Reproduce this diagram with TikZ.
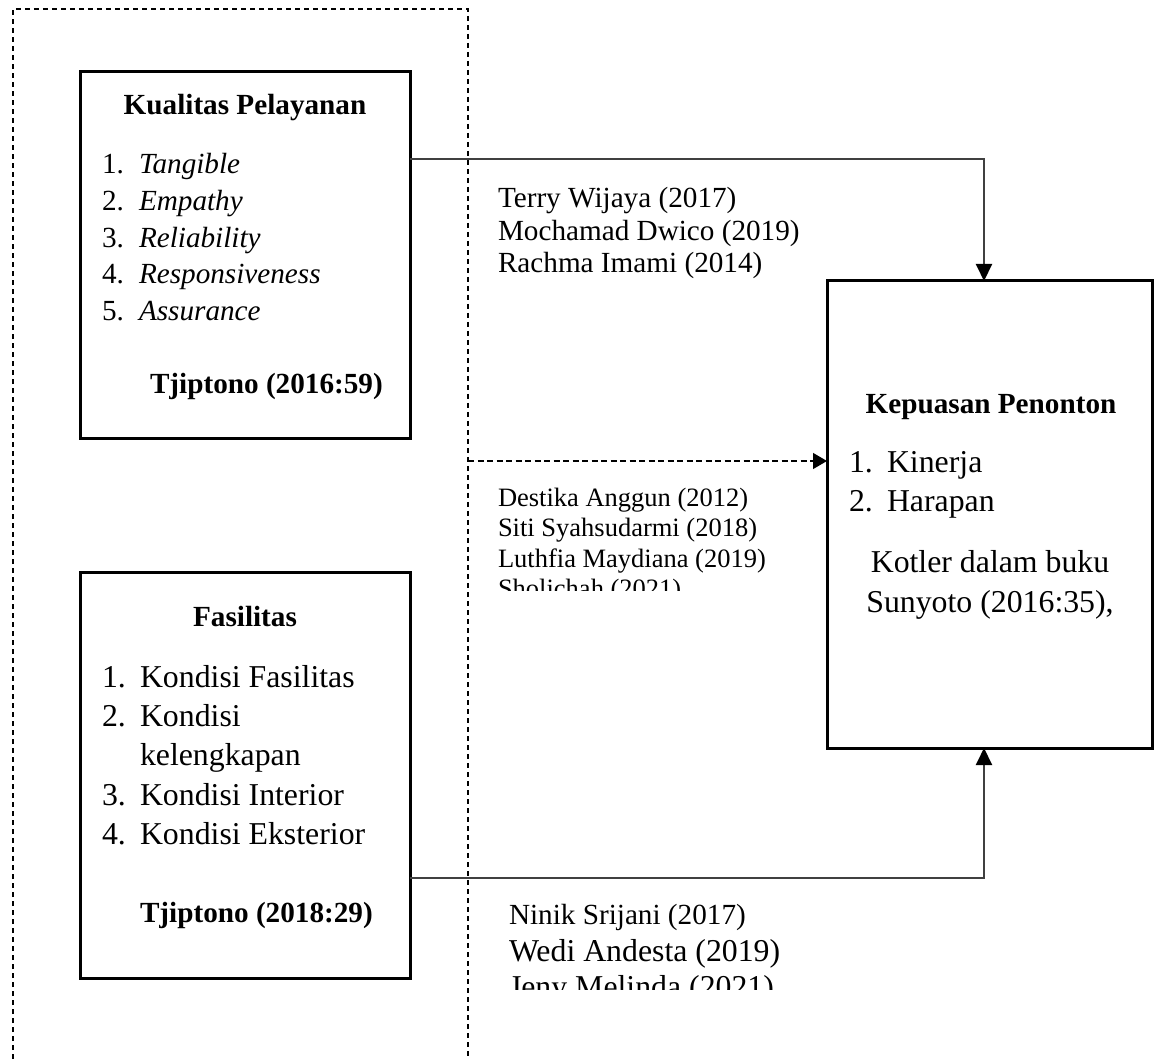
\documentclass[tikz,border=0pt]{standalone}
\usepackage{fontspec}
\setmainfont{Liberation Serif}
\usetikzlibrary{arrows.meta}
\newcommand\szA{\fontsize{29.2pt}{36pt}\selectfont}
\newcommand\szB{\fontsize{31.8pt}{39pt}\selectfont}
\newcommand\szC{\fontsize{26.5pt}{31pt}\selectfont}
\tikzset{
  boxnode/.style={draw=black, line width=3pt, rectangle, inner sep=0pt, outer sep=0pt},
  txt/.style={anchor=base west, inner sep=0pt, outer sep=0pt},
  ctxt/.style={anchor=base, inner sep=0pt, outer sep=0pt},
  conn/.style={line width=2pt, draw=black!75},
  tipA/.style={-{Triangle[length=17pt,width=16pt,color=black]}},
  tipB/.style={-{Triangle[length=14pt,width=16pt,color=black]}},
  frame/.style={line width=1.4pt, dash pattern=on 5pt off 4pt},
  dconn/.style={line width=1.3pt, dash pattern=on 6pt off 3.5pt}
}
\begin{document}
\begin{tikzpicture}[x=1pt,y=-1pt]
\useasboundingbox (0,0) rectangle (1154,1059);

% dashed frame (open at the bottom)
\draw[frame] (13,1059) |- (468,9) -- (468,1059);

% boxes
\node[boxnode, minimum width=330pt, minimum height=366pt] (kp) at (245,255) {};
\node[boxnode, minimum width=330pt, minimum height=406pt] (fas) at (245,775) {};
\node[boxnode, minimum width=325pt, minimum height=467pt] (kep) at (989.5,514.5) {};

% Kualitas Pelayanan
\node[ctxt] (kpT) at (245,115) {\szA\bfseries Kualitas Pelayanan};
\node[txt] (kpN1) at (102,174) {\szA 1.};
\node[txt] (kpI1) at (139,174) {\szA\itshape Tangible};
\node[txt] (kpN2) at (102,210.6) {\szA 2.};
\node[txt] (kpI2) at (139,210.6) {\szA\itshape Empathy};
\node[txt] (kpN3) at (102,247.2) {\szA 3.};
\node[txt] (kpI3) at (139,247.2) {\szA\itshape Reliability};
\node[txt] (kpN4) at (102,283.8) {\szA 4.};
\node[txt] (kpI4) at (139,283.8) {\szA\itshape Responsiveness};
\node[txt] (kpN5) at (102,320.4) {\szA 5.};
\node[txt] (kpI5) at (139,320.4) {\szA\itshape Assurance};
\node[txt] (kpS) at (150,393) {\szA\bfseries Tjiptono (2016:59)};

% Fasilitas
\node[ctxt] (fasT) at (245,626) {\szA\bfseries Fasilitas};
\node[txt] (fasN1) at (102,687) {\szB 1.};
\node[txt] (fasI1) at (140,687) {\szB Kondisi Fasilitas};
\node[txt] (fasN2) at (102,726.3) {\szB 2.};
\node[txt] (fasI2) at (140,726.3) {\szB Kondisi};
\node[txt] (fasI2b) at (140,765.6) {\szB kelengkapan};
\node[txt] (fasN3) at (102,805) {\szB 3.};
\node[txt] (fasI3) at (140,805) {\szB Kondisi Interior};
\node[txt] (fasN4) at (102,844) {\szB 4.};
\node[txt] (fasI4) at (140,844) {\szB Kondisi Eksterior};
\node[txt] (fasS) at (140,922) {\szA\bfseries Tjiptono (2018:29)};

% Kepuasan Penonton
\node[ctxt] (kepT) at (991,413) {\szA\bfseries Kepuasan Penonton};
\node[txt] (kepN1) at (849,472) {\szB 1.};
\node[txt] (kepI1) at (887,472) {\szB Kinerja};
\node[txt] (kepN2) at (849,511) {\szB 2.};
\node[txt] (kepI2) at (887,511) {\szB Harapan};
\node[ctxt] (kepS1) at (990,572) {\szB Kotler dalam buku};
\node[ctxt] (kepS2) at (990,612) {\szB Sunyoto (2016:35),};

% citations
\node[txt] (r1) at (498,208) {\szA Terry Wijaya (2017)};
\node[txt] (r2) at (498,240.5) {\szA Mochamad Dwico (2019)};
\node[txt] (r3) at (498,273) {\szA Rachma Imami (2014)};

\node[txt] (d1) at (498,506) {\szC Destika Anggun (2012)};
\node[txt] (d2) at (498,536.5) {\szC Siti Syahsudarmi (2018)};
\node[txt] (d3) at (498,567) {\szC Luthfia Maydiana (2019)};
\begin{scope}
\clip (480,575) rectangle (800,590);
\node[txt] (d4) at (498,597.5) {\szC Sholichah (2021)};
\end{scope}

\node[txt] (n1) at (509,924) {\szA Ninik Srijani (2017)};
\node[txt] (n2) at (509,961) {\szB Wedi Andesta (2019)};
\begin{scope}
\clip (480,965) rectangle (820,989);
\node[txt] (n3) at (509,997) {\szB Jeny Melinda (2021)};
\end{scope}

% connectors
\coordinate (c1) at (984,159);
\coordinate (c2) at (984,878);
\coordinate (c3) at (468,461);
\draw[conn, tipA] (kp.east |- c1) -- (c1) -- (c1 |- kep.north);
\draw[conn, tipA] (fas.east |- c2) -- (c2) -- (c2 |- kep.south);
\draw[dconn, tipB] (c3) -- (kep.west |- c3);
\end{tikzpicture}
\end{document}
